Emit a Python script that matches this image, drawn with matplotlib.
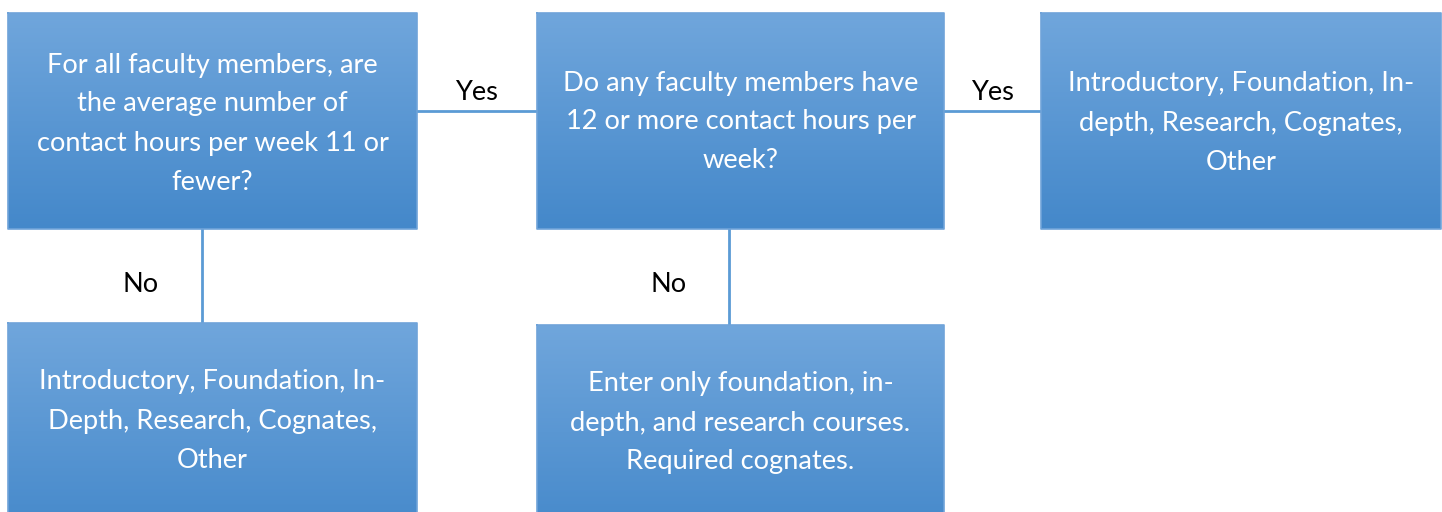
import numpy as np
import matplotlib
matplotlib.use("Agg")
import matplotlib.pyplot as plt

# box texts (line breaks as in the picture)
box_text = [
    ["For all faculty members, are", "the average number of",
     "contact hours per week 11 or", "fewer?"],
    ["Do any faculty members have", "12 or more contact hours per", "week?"],
    ["Introductory, Foundation, In-", "depth, Research, Cognates,", "Other"],
    ["Introductory, Foundation, In-", "Depth, Research, Cognates,", "Other"],
    ["Enter only foundation, in-", "depth, and research courses.", "Required cognates."],
]
edge_labels = ["Yes", "Yes", "No", "No"]

# layout in pixels (x0, y0, x1, y1)
box_pos = [(8, 13, 417, 229), (537, 13, 944, 229), (1041, 13, 1441, 229),
           (8, 323, 417, 540), (537, 325, 944, 540)]
text_top = [65, 83, 84, 382, 384]
line_gap = 39
lines = [((417, 111), (537, 111)), ((944, 111), (1041, 111)),
         ((202, 205), (202, 323)), ((729, 207), (729, 325))]
label_pos = [(477, 92), (993, 92), (141, 284), (669, 284)]

fig = plt.figure(figsize=(14.42, 5.12), dpi=100)
ax = fig.add_axes([0, 0, 1, 1])
ax.set_xlim(0, 1442)
ax.set_ylim(512, 0)
ax.axis("off")

top = np.array([0x70, 0xA6, 0xDC]) / 255
bot = np.array([0x44, 0x88, 0xCA]) / 255
t = np.linspace(0, 1, 256)[:, None]
grad = (top * (1 - t) + bot * t)[:, None, :]

for (x0, y0, x1, y1), txt, ty in zip(box_pos, box_text, text_top):
    ax.imshow(grad, extent=(x0, x1, y1, y0), aspect="auto", zorder=2)
    ax.plot([x0, x1, x1, x0, x0], [y0, y0, y1, y1, y0], color="#6FA3D9", lw=1.2, zorder=3)
    cx = (x0 + x1) / 2
    for i, ln in enumerate(txt):
        ax.text(cx, ty + i * line_gap, ln, ha="center", va="center", color="white",
                fontsize=19.6, family="Lato", zorder=4)

for (p, q) in lines:
    ax.plot([p[0], q[0]], [p[1], q[1]], color="#5B9BD5", lw=2, zorder=1)

for lab, (x, y) in zip(edge_labels, label_pos):
    ax.text(x, y, lab, ha="center", va="center", color="black", fontsize=19.6, family="Lato")

ax.set_xlim(0, 1442)
ax.set_ylim(512, 0)
fig.savefig("out.png", dpi=100)
